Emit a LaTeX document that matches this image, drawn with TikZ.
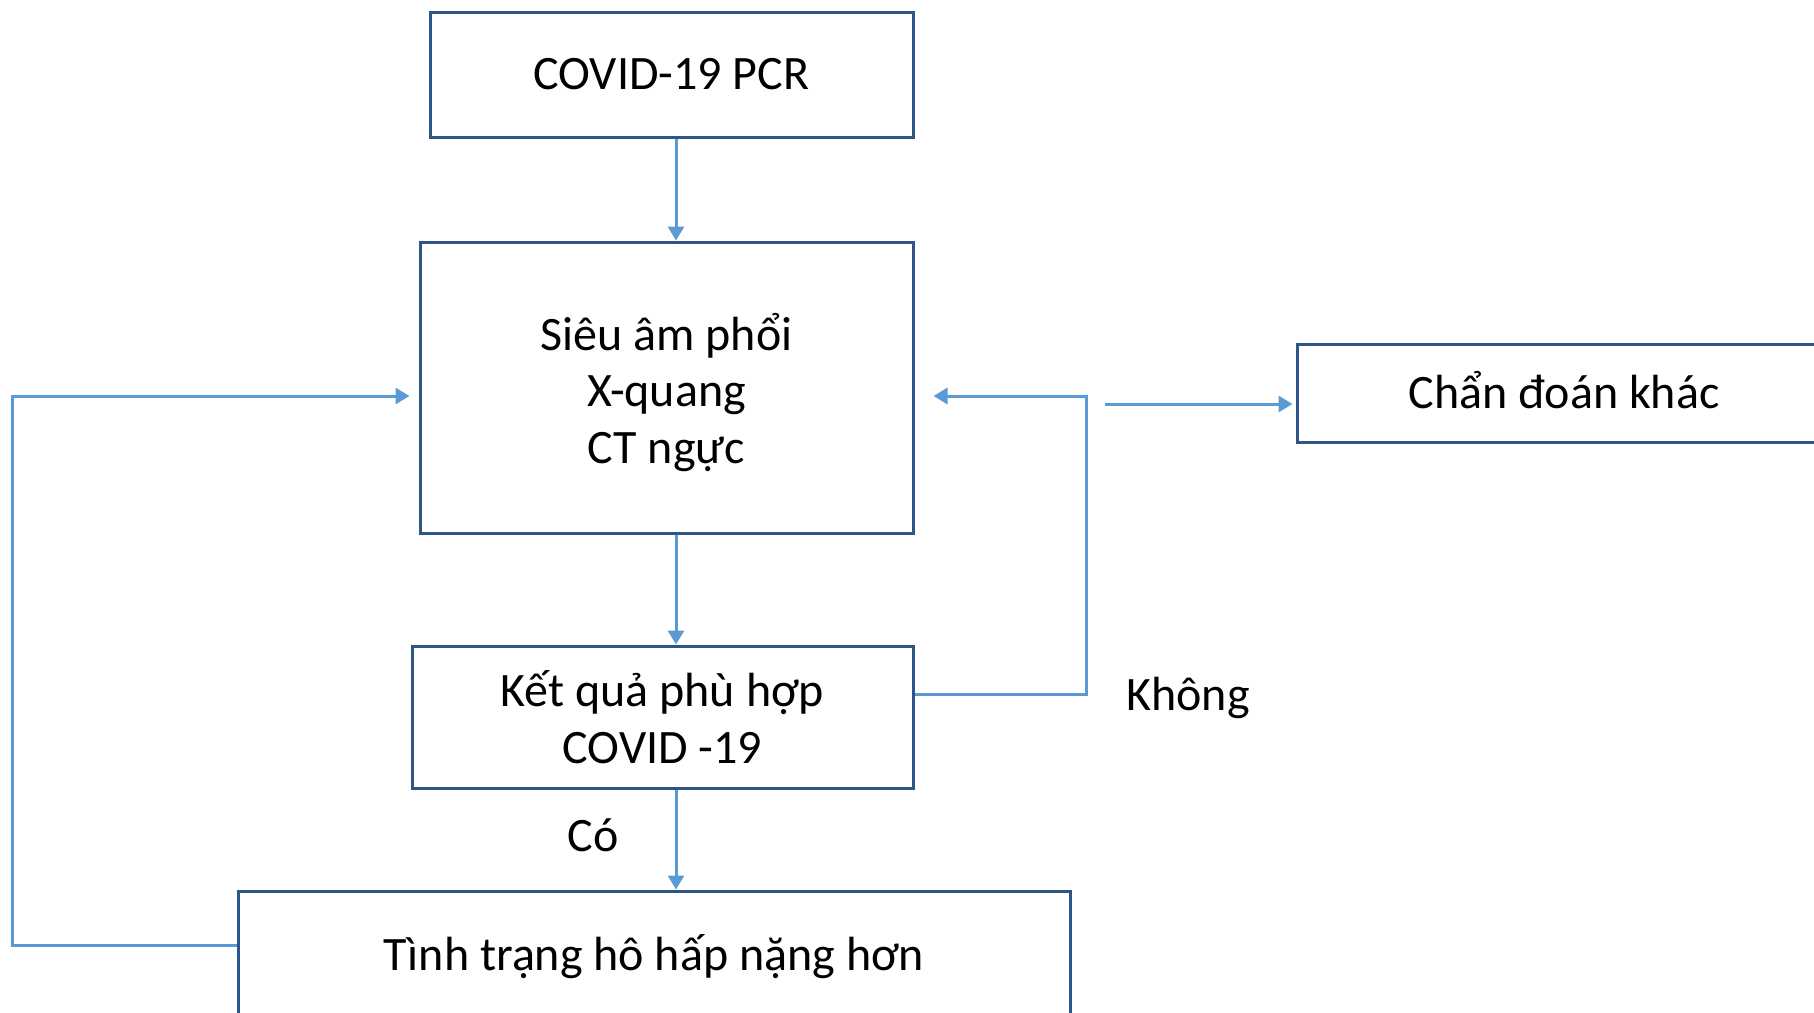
\documentclass[tikz,border=0pt]{standalone}
\usepackage{fontspec}
\setmainfont{Carlito}
\usetikzlibrary{arrows.meta,calc}
\definecolor{boxblue}{HTML}{2F5487}
\definecolor{arrblue}{HTML}{5B9BD5}
\begin{document}
\begin{tikzpicture}[x=0.5pt,y=-0.5pt,
  stepbox/.style={draw=boxblue,line width=1.5pt,inner sep=0pt,align=center,
    font=\fontsize{24pt}{28.4pt}\selectfont},
  lbl/.style={inner sep=0pt,align=center,font=\fontsize{24pt}{28.4pt}\selectfont},
  arr/.style={draw=arrblue,line width=1.5pt,-{Triangle[length=7pt,width=8pt]}}]
\useasboundingbox (0,0) rectangle (1814,1012);
\node[stepbox,minimum width=241.5pt,minimum height=62.5pt] (pcr) at (671.5,74.5) {COVID-19 PCR};
\node[stepbox,minimum width=246.5pt,minimum height=145.5pt] (img) at (666.5,387.5) {};
\node[lbl] (imgtext) at (666.5,392.5) {Siêu âm phổi\\X-quang\\CT ngực};
\node[stepbox,minimum width=250.5pt,minimum height=71pt] (res) at (662.5,717) {Kết quả phù hợp\\COVID -19};
\node[stepbox,minimum width=416pt,minimum height=66pt] (worse) at (654,957) {Tình trạng hô hấp nặng hơn};
\node[stepbox,minimum width=267pt,minimum height=49pt] (other) at (1564,393) {};
\node[lbl] (othertext) at (1564,390.5) {Chẩn đoán khác};
\node[lbl] (co) at (593,835) {Có};
\node[lbl] (khong) at (1188,698) {Không};
\draw[arr] (pcr.south -| 676,0) -- (img.north -| 676,0);
\draw[arr] (img.south -| 676,0) -- (res.north -| 676,0);
\draw[arr] (res.south -| 676,0) -- (worse.north -| 676,0);
\coordinate (lx) at (12,396);
\draw[arr] (worse.west |- 0,945) -| (lx) -- ($(img.west |- lx)+(-9,0)$);
\coordinate (rx) at (1086,396);
\draw[arr] (res.east |- 0,694) -| (rx) -- ($(img.east |- rx)+(19,0)$);
\coordinate (k) at (1105,404);
\draw[arr] (k) -- ($(other.west |- k)+(-3,0)$);
\end{tikzpicture}
\end{document}
